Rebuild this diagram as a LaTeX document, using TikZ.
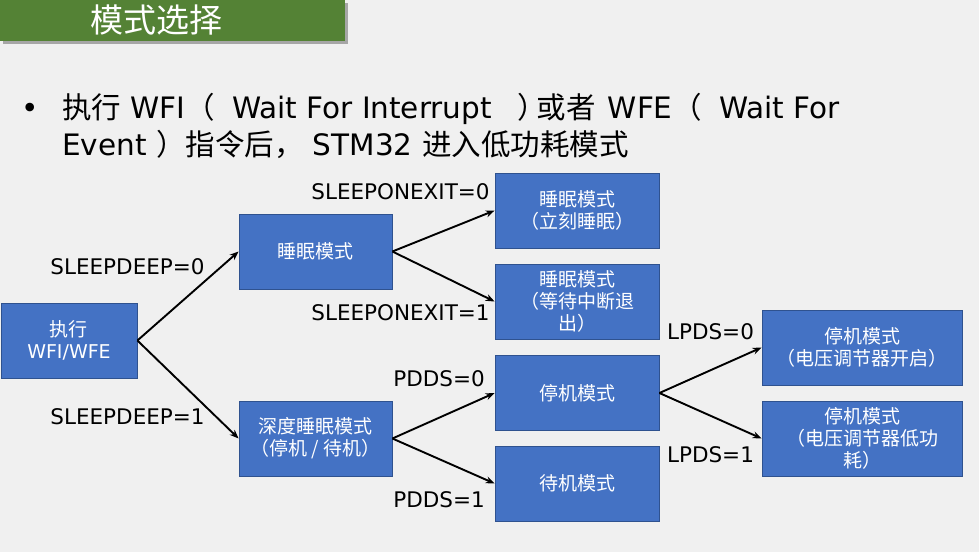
\documentclass[tikz,border=0pt]{standalone}
\usepackage{fontspec}
\setmainfont{DejaVu Sans}
\newfontfamily\cjk{Noto Sans CJK SC}
\usetikzlibrary{arrows.meta}
\definecolor{bg}{HTML}{F0F0F0}
\definecolor{titlegreen}{HTML}{548235}
\definecolor{boxblue}{HTML}{4472C4}
\definecolor{boxline}{HTML}{2F528F}
\tikzset{
  mbox/.style={draw=boxline, line width=0.8pt, fill=boxblue, text=white, inner sep=0pt,
    align=center, font=\fontsize{19}{22}\selectfont\cjk},
  lbl/.style={font=\fontsize{21.5}{24}\selectfont, text=black, inner sep=0pt},
  conn/.style={line width=1.9pt, -{Stealth[length=9pt,width=7pt]}},
  btext/.style={font=\fontsize{29.5}{36}\selectfont, anchor=base west, inner sep=0pt}
}
\begin{document}
\begin{tikzpicture}[x=1pt,y=-1pt]
\fill[bg] (0,0) rectangle (979,552);
\useasboundingbox (0,0) rectangle (979,552);
% title
\fill[gray!70] (3,3) rectangle (348,44);
\fill[titlegreen] (0,0) rectangle (345,41);
\node[text=white, font=\fontsize{33}{36}\selectfont\cjk, inner sep=0pt] (title) at (156,20) {模式选择};
% bullet text
\node[btext] (bullet) at (21,118) {•};
\node[btext] (line1) at (62,118) {{\cjk 执行}\hspace{9pt}WFI{\cjk （}\hspace{17.5pt}Wait For Interrupt\hspace{26pt}{\cjk ）}\hspace{-10.5pt}{\cjk 或者}\hspace{12pt}WFE{\cjk （}\hspace{17pt}Wait For};
\node[btext] (line2) at (62,155) {Event {\cjk ）指令后，} STM32 {\cjk 进入低功耗模式}};
% boxes
\node[mbox, minimum width=136pt, minimum height=75pt, font=\fontsize{19}{22}\selectfont] (A) at (69,340.5) {{\cjk 执行}\\WFI/WFE};
\node[mbox, minimum width=153pt, minimum height=75pt] (B) at (315.5,251.5) {睡眠模式};
\node[mbox, minimum width=153pt, minimum height=75pt] (C) at (315.5,438.5) {深度睡眠模式\\（停机 / 待机）};
\node[mbox, minimum width=164pt, minimum height=75pt] (D) at (577,210.5) {睡眠模式\\（立刻睡眠）};
\node[mbox, minimum width=164pt, minimum height=75pt] (E) at (577,301.5) {睡眠模式\\（等待中断退\\出）};
\node[mbox, minimum width=164pt, minimum height=75pt] (F) at (577,393) {停机模式};
\node[mbox, minimum width=164pt, minimum height=75pt] (G) at (577,483.5) {待机模式};
\node[mbox, minimum width=200pt, minimum height=75pt] (H) at (862,347.5) {停机模式\\（电压调节器开启）};
\node[mbox, minimum width=200pt, minimum height=75pt] (I) at (862,438.5) {停机模式\\（电压调节器低功\\耗）};
% connectors
\draw[conn] (A.east) -- (B.west);
\draw[conn] (A.east) -- (C.west);
\draw[conn] (B.east) -- (D.west);
\draw[conn] (B.east) -- (E.west);
\draw[conn] (C.east) -- (F.west);
\draw[conn] (C.east) -- (G.west);
\draw[conn] (F.east) -- (H.west);
\draw[conn] (F.east) -- (I.west);
% labels
\node[lbl] (l1) at (127.5,267) {SLEEPDEEP=0};
\node[lbl] (l2) at (127.5,417) {SLEEPDEEP=1};
\node[lbl] (l3) at (400.5,192) {SLEEPONEXIT=0};
\node[lbl] (l4) at (400.5,313) {SLEEPONEXIT=1};
\node[lbl] (l5) at (439,379) {PDDS=0};
\node[lbl] (l6) at (439,500) {PDDS=1};
\node[lbl] (l7) at (710.5,332) {LPDS=0};
\node[lbl] (l8) at (710.5,455) {LPDS=1};
\end{tikzpicture}
\end{document}
